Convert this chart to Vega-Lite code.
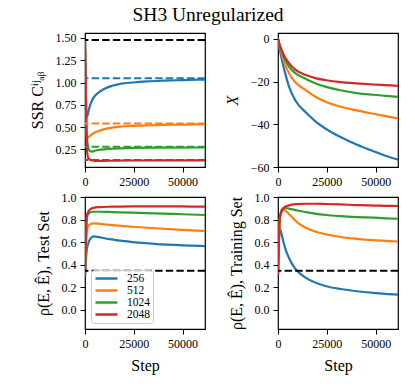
{
  "$schema": "https://vega.github.io/schema/vega-lite/v6.json",
  "padding": {"left": 28, "top": 4, "right": 5, "bottom": 5},
  "title": {"text": "SH3 Unregularized", "font": "Liberation Serif", "fontSize": 19.5, "fontWeight": "normal", "color": "black", "anchor": "middle", "offset": 6, "dx": -6},
  "config": {
    "font": "Liberation Serif",
    "view": {"stroke": "black", "strokeWidth": 1.2},
    "axis": {"domain": false, "grid": false, "tickColor": "black", "tickWidth": 1, "tickSize": 5, "labelColor": "black", "labelFont": "Liberation Serif", "labelFontSize": 12, "titleFont": "Liberation Serif", "titleFontSize": 16, "titleFontWeight": "normal", "titleColor": "black", "labelPadding": 4, "labelFlush": false, "labelOverlap": false},
    "axisY": {"titlePadding": 10},
    "axisX": {"titlePadding": 8}
  },
  "datasets": {
    "ssr": [
      {"step": 0, "value": 1.475, "bs": "256"}, {"step": 870, "value": 0.607, "bs": "256"}, {"step": 1220, "value": 0.625, "bs": "256"}, {"step": 2260, "value": 0.72, "bs": "256"}, {"step": 3480, "value": 0.794, "bs": "256"}, {"step": 4350, "value": 0.83, "bs": "256"}, {"step": 6970, "value": 0.888, "bs": "256"}, {"step": 10000, "value": 0.93, "bs": "256"}, {"step": 13940, "value": 0.963, "bs": "256"}, {"step": 18000, "value": 0.985, "bs": "256"}, {"step": 24390, "value": 1.0, "bs": "256"}, {"step": 32000, "value": 1.012, "bs": "256"}, {"step": 40070, "value": 1.02, "bs": "256"}, {"step": 50000, "value": 1.027, "bs": "256"}, {"step": 61500, "value": 1.033, "bs": "256"},
      {"step": 0, "value": 1.475, "bs": "512"}, {"step": 870, "value": 0.363, "bs": "512"}, {"step": 1500, "value": 0.38, "bs": "512"}, {"step": 2610, "value": 0.4, "bs": "512"}, {"step": 4350, "value": 0.43, "bs": "512"}, {"step": 6970, "value": 0.456, "bs": "512"}, {"step": 10000, "value": 0.477, "bs": "512"}, {"step": 13940, "value": 0.494, "bs": "512"}, {"step": 18000, "value": 0.505, "bs": "512"}, {"step": 24390, "value": 0.513, "bs": "512"}, {"step": 32000, "value": 0.519, "bs": "512"}, {"step": 40070, "value": 0.524, "bs": "512"}, {"step": 50000, "value": 0.528, "bs": "512"}, {"step": 61500, "value": 0.532, "bs": "512"},
      {"step": 0, "value": 1.475, "bs": "1024"}, {"step": 870, "value": 0.42, "bs": "1024"}, {"step": 1500, "value": 0.29, "bs": "1024"}, {"step": 2300, "value": 0.235, "bs": "1024"}, {"step": 3480, "value": 0.224, "bs": "1024"}, {"step": 5000, "value": 0.233, "bs": "1024"}, {"step": 6970, "value": 0.242, "bs": "1024"}, {"step": 10000, "value": 0.25, "bs": "1024"}, {"step": 13940, "value": 0.257, "bs": "1024"}, {"step": 18000, "value": 0.261, "bs": "1024"}, {"step": 24390, "value": 0.265, "bs": "1024"}, {"step": 40070, "value": 0.268, "bs": "1024"}, {"step": 61500, "value": 0.27, "bs": "1024"},
      {"step": 0, "value": 1.475, "bs": "2048"}, {"step": 300, "value": 1.1, "bs": "2048"}, {"step": 600, "value": 0.6, "bs": "2048"}, {"step": 900, "value": 0.3, "bs": "2048"}, {"step": 1570, "value": 0.156, "bs": "2048"}, {"step": 2500, "value": 0.135, "bs": "2048"}, {"step": 3480, "value": 0.126, "bs": "2048"}, {"step": 5000, "value": 0.12, "bs": "2048"}, {"step": 6970, "value": 0.119, "bs": "2048"}, {"step": 10000, "value": 0.12, "bs": "2048"}, {"step": 15000, "value": 0.122, "bs": "2048"}, {"step": 25000, "value": 0.124, "bs": "2048"}, {"step": 40000, "value": 0.125, "bs": "2048"}, {"step": 61500, "value": 0.126, "bs": "2048"}
    ],
    "ssr_ref": [
      {"value": 1.047, "bs": "256"}, {"value": 0.539, "bs": "512"}, {"value": 0.278, "bs": "1024"}, {"value": 0.13, "bs": "2048"}
    ],
    "xval": [
      {"step": 0, "value": 0, "bs": "256"}, {"step": 1000, "value": -5.5, "bs": "256"}, {"step": 2240, "value": -10.7, "bs": "256"}, {"step": 3500, "value": -15.5, "bs": "256"}, {"step": 5690, "value": -22.5, "bs": "256"}, {"step": 9000, "value": -29, "bs": "256"}, {"step": 14310, "value": -34.5, "bs": "256"}, {"step": 19000, "value": -38.5, "bs": "256"}, {"step": 24650, "value": -42.2, "bs": "256"}, {"step": 32000, "value": -46, "bs": "256"}, {"step": 40170, "value": -49.5, "bs": "256"}, {"step": 48790, "value": -52.6, "bs": "256"}, {"step": 55000, "value": -54.7, "bs": "256"}, {"step": 61400, "value": -56.6, "bs": "256"},
      {"step": 0, "value": 0, "bs": "512"}, {"step": 1000, "value": -4.2, "bs": "512"}, {"step": 2240, "value": -8.3, "bs": "512"}, {"step": 3500, "value": -11.8, "bs": "512"}, {"step": 5690, "value": -16.2, "bs": "512"}, {"step": 9000, "value": -20.5, "bs": "512"}, {"step": 14310, "value": -24.1, "bs": "512"}, {"step": 19000, "value": -27, "bs": "512"}, {"step": 24650, "value": -29.6, "bs": "512"}, {"step": 32000, "value": -31.8, "bs": "512"}, {"step": 40170, "value": -33.5, "bs": "512"}, {"step": 48790, "value": -35.1, "bs": "512"}, {"step": 55000, "value": -36.2, "bs": "512"}, {"step": 61400, "value": -37.3, "bs": "512"},
      {"step": 0, "value": 0, "bs": "1024"}, {"step": 1000, "value": -3.6, "bs": "1024"}, {"step": 2240, "value": -6.8, "bs": "1024"}, {"step": 3500, "value": -9.6, "bs": "1024"}, {"step": 5690, "value": -13.1, "bs": "1024"}, {"step": 9000, "value": -16.2, "bs": "1024"}, {"step": 14310, "value": -18.8, "bs": "1024"}, {"step": 19000, "value": -20.8, "bs": "1024"}, {"step": 24650, "value": -22.5, "bs": "1024"}, {"step": 32000, "value": -24.1, "bs": "1024"}, {"step": 40170, "value": -25.4, "bs": "1024"}, {"step": 48790, "value": -26.2, "bs": "1024"}, {"step": 55000, "value": -26.7, "bs": "1024"}, {"step": 61400, "value": -27.2, "bs": "1024"},
      {"step": 0, "value": 0, "bs": "2048"}, {"step": 1000, "value": -3.2, "bs": "2048"}, {"step": 2240, "value": -6.0, "bs": "2048"}, {"step": 3500, "value": -8.5, "bs": "2048"}, {"step": 5690, "value": -11.5, "bs": "2048"}, {"step": 9000, "value": -14.6, "bs": "2048"}, {"step": 14310, "value": -17.0, "bs": "2048"}, {"step": 19000, "value": -18.4, "bs": "2048"}, {"step": 24650, "value": -19.4, "bs": "2048"}, {"step": 32000, "value": -20.3, "bs": "2048"}, {"step": 40170, "value": -20.9, "bs": "2048"}, {"step": 48790, "value": -21.4, "bs": "2048"}, {"step": 55000, "value": -21.7, "bs": "2048"}, {"step": 61400, "value": -22.0, "bs": "2048"}
    ],
    "test": [
      {"step": 0, "value": 0.3, "bs": "256"}, {"step": 400, "value": 0.42, "bs": "256"}, {"step": 900, "value": 0.53, "bs": "256"}, {"step": 1740, "value": 0.593, "bs": "256"}, {"step": 3000, "value": 0.635, "bs": "256"}, {"step": 4355, "value": 0.65, "bs": "256"}, {"step": 6970, "value": 0.644, "bs": "256"}, {"step": 10000, "value": 0.634, "bs": "256"}, {"step": 13940, "value": 0.623, "bs": "256"}, {"step": 18000, "value": 0.612, "bs": "256"}, {"step": 24390, "value": 0.6, "bs": "256"}, {"step": 32000, "value": 0.589, "bs": "256"}, {"step": 40070, "value": 0.579, "bs": "256"}, {"step": 50000, "value": 0.571, "bs": "256"}, {"step": 61500, "value": 0.564, "bs": "256"},
      {"step": 0, "value": 0.3, "bs": "512"}, {"step": 400, "value": 0.5, "bs": "512"}, {"step": 900, "value": 0.68, "bs": "512"}, {"step": 1390, "value": 0.735, "bs": "512"}, {"step": 2500, "value": 0.757, "bs": "512"}, {"step": 4355, "value": 0.765, "bs": "512"}, {"step": 6970, "value": 0.763, "bs": "512"}, {"step": 10000, "value": 0.757, "bs": "512"}, {"step": 13940, "value": 0.75, "bs": "512"}, {"step": 24390, "value": 0.736, "bs": "512"}, {"step": 40070, "value": 0.718, "bs": "512"}, {"step": 50000, "value": 0.708, "bs": "512"}, {"step": 61500, "value": 0.697, "bs": "512"},
      {"step": 0, "value": 0.3, "bs": "1024"}, {"step": 400, "value": 0.6, "bs": "1024"}, {"step": 900, "value": 0.8, "bs": "1024"}, {"step": 1390, "value": 0.843, "bs": "1024"}, {"step": 2500, "value": 0.862, "bs": "1024"}, {"step": 4355, "value": 0.869, "bs": "1024"}, {"step": 6970, "value": 0.869, "bs": "1024"}, {"step": 13940, "value": 0.866, "bs": "1024"}, {"step": 24390, "value": 0.861, "bs": "1024"}, {"step": 40070, "value": 0.852, "bs": "1024"}, {"step": 50000, "value": 0.847, "bs": "1024"}, {"step": 61500, "value": 0.84, "bs": "1024"},
      {"step": 0, "value": 0.3, "bs": "2048"}, {"step": 400, "value": 0.62, "bs": "2048"}, {"step": 870, "value": 0.82, "bs": "2048"}, {"step": 1740, "value": 0.872, "bs": "2048"}, {"step": 3000, "value": 0.895, "bs": "2048"}, {"step": 4355, "value": 0.904, "bs": "2048"}, {"step": 7000, "value": 0.91, "bs": "2048"}, {"step": 13940, "value": 0.914, "bs": "2048"}, {"step": 24390, "value": 0.917, "bs": "2048"}, {"step": 40070, "value": 0.917, "bs": "2048"}, {"step": 50000, "value": 0.916, "bs": "2048"}, {"step": 61500, "value": 0.914, "bs": "2048"}
    ],
    "train": [
      {"step": 0, "value": 0.31, "bs": "256"}, {"step": 400, "value": 0.55, "bs": "256"}, {"step": 860, "value": 0.715, "bs": "256"}, {"step": 1400, "value": 0.7, "bs": "256"}, {"step": 2240, "value": 0.64, "bs": "256"}, {"step": 3500, "value": 0.555, "bs": "256"}, {"step": 4830, "value": 0.49, "bs": "256"}, {"step": 6000, "value": 0.445, "bs": "256"}, {"step": 7410, "value": 0.4, "bs": "256"}, {"step": 9000, "value": 0.36, "bs": "256"}, {"step": 10860, "value": 0.326, "bs": "256"}, {"step": 14310, "value": 0.282, "bs": "256"}, {"step": 19000, "value": 0.24, "bs": "256"}, {"step": 24650, "value": 0.208, "bs": "256"}, {"step": 32000, "value": 0.183, "bs": "256"}, {"step": 40170, "value": 0.163, "bs": "256"}, {"step": 48790, "value": 0.148, "bs": "256"}, {"step": 55000, "value": 0.14, "bs": "256"}, {"step": 61400, "value": 0.134, "bs": "256"},
      {"step": 0, "value": 0.31, "bs": "512"}, {"step": 400, "value": 0.6, "bs": "512"}, {"step": 860, "value": 0.78, "bs": "512"}, {"step": 1500, "value": 0.85, "bs": "512"}, {"step": 3100, "value": 0.885, "bs": "512"}, {"step": 4500, "value": 0.868, "bs": "512"}, {"step": 6000, "value": 0.843, "bs": "512"}, {"step": 7410, "value": 0.816, "bs": "512"}, {"step": 10000, "value": 0.772, "bs": "512"}, {"step": 14310, "value": 0.727, "bs": "512"}, {"step": 19000, "value": 0.693, "bs": "512"}, {"step": 24650, "value": 0.668, "bs": "512"}, {"step": 32000, "value": 0.645, "bs": "512"}, {"step": 40170, "value": 0.629, "bs": "512"}, {"step": 48790, "value": 0.617, "bs": "512"}, {"step": 55000, "value": 0.611, "bs": "512"}, {"step": 61400, "value": 0.605, "bs": "512"},
      {"step": 0, "value": 0.31, "bs": "1024"}, {"step": 400, "value": 0.62, "bs": "1024"}, {"step": 860, "value": 0.8, "bs": "1024"}, {"step": 1380, "value": 0.86, "bs": "1024"}, {"step": 2500, "value": 0.895, "bs": "1024"}, {"step": 3970, "value": 0.902, "bs": "1024"}, {"step": 6000, "value": 0.895, "bs": "1024"}, {"step": 8000, "value": 0.888, "bs": "1024"}, {"step": 10000, "value": 0.88, "bs": "1024"}, {"step": 14310, "value": 0.866, "bs": "1024"}, {"step": 19000, "value": 0.852, "bs": "1024"}, {"step": 24650, "value": 0.84, "bs": "1024"}, {"step": 32000, "value": 0.83, "bs": "1024"}, {"step": 40170, "value": 0.822, "bs": "1024"}, {"step": 48790, "value": 0.816, "bs": "1024"}, {"step": 55000, "value": 0.811, "bs": "1024"}, {"step": 61400, "value": 0.807, "bs": "1024"},
      {"step": 0, "value": 0.31, "bs": "2048"}, {"step": 400, "value": 0.6, "bs": "2048"}, {"step": 860, "value": 0.8, "bs": "2048"}, {"step": 1500, "value": 0.86, "bs": "2048"}, {"step": 2240, "value": 0.89, "bs": "2048"}, {"step": 3500, "value": 0.912, "bs": "2048"}, {"step": 5690, "value": 0.926, "bs": "2048"}, {"step": 9000, "value": 0.936, "bs": "2048"}, {"step": 14310, "value": 0.94, "bs": "2048"}, {"step": 19000, "value": 0.94, "bs": "2048"}, {"step": 24650, "value": 0.938, "bs": "2048"}, {"step": 32000, "value": 0.934, "bs": "2048"}, {"step": 40170, "value": 0.928, "bs": "2048"}, {"step": 48790, "value": 0.924, "bs": "2048"}, {"step": 55000, "value": 0.922, "bs": "2048"}, {"step": 61400, "value": 0.92, "bs": "2048"}
    ]
  },
  "columns": 2,
  "spacing": {"row": 2, "column": 16},
  "resolve": {"legend": {"color": "independent"}},
  "concat": [
    {
      "width": 120, "height": 134,
      "encoding": {
        "y": {"field": "value", "type": "quantitative", "scale": {"domain": [0.051, 1.556], "nice": false, "zero": false}, "axis": {"values": [0.25, 0.5, 0.75, 1.0, 1.25, 1.5], "format": ".2f", "title": "SSR Cⁱʲₐᵦ", "labelOverlap": false}}
      },
      "layer": [
        {"data": {"name": "ssr"}, "mark": {"type": "line", "strokeWidth": 2.2, "interpolate": "monotone", "clip": true},
         "encoding": {
           "x": {"field": "step", "type": "quantitative", "scale": {"domain": [0, 61500], "nice": false}, "axis": {"values": [0, 25000, 50000], "format": "d", "title": null, "labelOverlap": false}},
           "color": {"field": "bs", "type": "nominal", "scale": {"domain": ["256", "512", "1024", "2048"], "range": ["#1f77b4", "#ff7f0e", "#2ca02c", "#d62728"]}, "legend": null}
         }},
        {"data": {"name": "ssr_ref"}, "mark": {"type": "rule", "strokeWidth": 2, "strokeDash": [7.4, 3.2]},
         "encoding": {"color": {"field": "bs", "type": "nominal", "legend": null}}},
        {"data": {"values": [{"value": 1.476}]}, "mark": {"type": "rule", "strokeWidth": 2, "strokeDash": [7.4, 3.2], "color": "black"},
         "encoding": {}}
      ]
    },
    {
      "width": 120, "height": 134,
      "layer": [
        {"data": {"name": "xval"}, "mark": {"type": "line", "strokeWidth": 2.2, "interpolate": "monotone", "clip": true},
         "encoding": {
           "x": {"field": "step", "type": "quantitative", "scale": {"domain": [0, 61400], "nice": false}, "axis": {"values": [0, 25000, 50000], "format": "d", "title": null, "labelOverlap": false}},
           "y": {"field": "value", "type": "quantitative", "scale": {"domain": [-60, 2.7], "nice": false, "zero": false}, "axis": {"values": [-60, -40, -20, 0], "format": "d", "title": "X", "titleFontStyle": "italic", "labelOverlap": false}},
           "color": {"field": "bs", "type": "nominal", "scale": {"domain": ["256", "512", "1024", "2048"], "range": ["#1f77b4", "#ff7f0e", "#2ca02c", "#d62728"]}, "legend": null}
         }}
      ]
    },
    {
      "width": 120, "height": 132,
      "encoding": {
        "y": {"field": "value", "type": "quantitative", "scale": {"domain": [-0.172, 1.0], "nice": false, "zero": false}, "axis": {"values": [0, 0.2, 0.4, 0.6, 0.8, 1.0], "format": ".1f", "title": "ρ(E, Ê), Test Set", "labelOverlap": false}}
      },
      "layer": [
        {"data": {"name": "test"}, "mark": {"type": "line", "strokeWidth": 2.2, "interpolate": "monotone", "clip": true},
         "encoding": {
           "x": {"field": "step", "type": "quantitative", "scale": {"domain": [0, 61500], "nice": false}, "axis": {"values": [0, 25000, 50000], "format": "d", "title": "Step", "labelOverlap": false}},
           "color": {"field": "bs", "type": "nominal", "scale": {"domain": ["256", "512", "1024", "2048"], "range": ["#1f77b4", "#ff7f0e", "#2ca02c", "#d62728"]},
             "legend": {"title": null, "orient": "bottom-left", "offset": 6, "symbolType": "stroke", "symbolSize": 484, "symbolStrokeWidth": 2.5, "labelFont": "Liberation Serif", "labelFontSize": 11.5, "labelColor": "black", "labelOffset": 8, "fillColor": "rgba(255,255,255,0.85)", "strokeColor": "#cccccc", "cornerRadius": 3, "padding": 3, "rowPadding": 0, "clipHeight": 11}}
         }},
        {"data": {"values": [{"value": 0.345}]}, "mark": {"type": "rule", "strokeWidth": 2, "strokeDash": [7.4, 3.2], "color": "black"},
         "encoding": {}}
      ]
    },
    {
      "width": 120, "height": 132,
      "encoding": {
        "y": {"field": "value", "type": "quantitative", "scale": {"domain": [-0.172, 1.0], "nice": false, "zero": false}, "axis": {"values": [0, 0.2, 0.4, 0.6, 0.8, 1.0], "format": ".1f", "title": "ρ(E, Ê), Training Set", "labelOverlap": false}}
      },
      "layer": [
        {"data": {"name": "train"}, "mark": {"type": "line", "strokeWidth": 2.2, "interpolate": "monotone", "clip": true},
         "encoding": {
           "x": {"field": "step", "type": "quantitative", "scale": {"domain": [0, 61400], "nice": false}, "axis": {"values": [0, 25000, 50000], "format": "d", "title": "Step", "labelOverlap": false}},
           "color": {"field": "bs", "type": "nominal", "scale": {"domain": ["256", "512", "1024", "2048"], "range": ["#1f77b4", "#ff7f0e", "#2ca02c", "#d62728"]}, "legend": null}
         }},
        {"data": {"values": [{"value": 0.345}]}, "mark": {"type": "rule", "strokeWidth": 2, "strokeDash": [7.4, 3.2], "color": "black"},
         "encoding": {}}
      ]
    }
  ]
}
